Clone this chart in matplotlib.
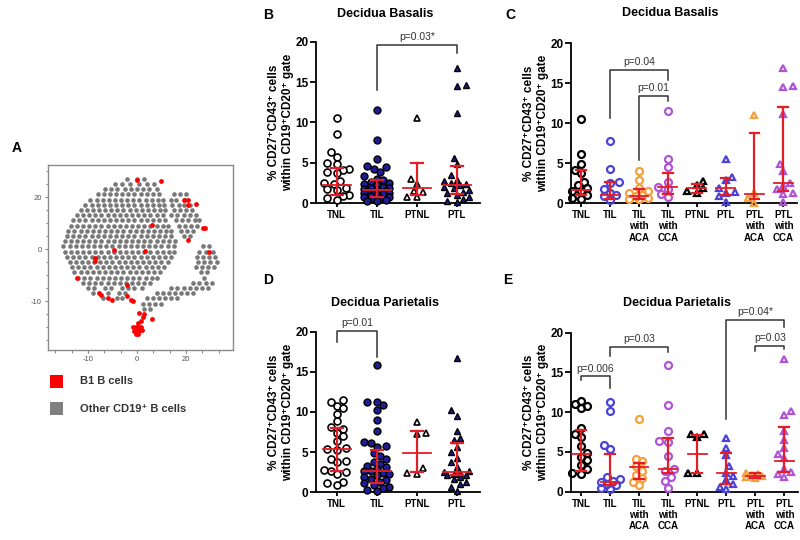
import numpy as np
import matplotlib
matplotlib.use("Agg")
import matplotlib.pyplot as plt
from matplotlib.patches import Rectangle

plt.rcParams['font.family'] = ['Liberation Sans', 'DejaVu Sans']

# ---------------- data ----------------
# panel A: t-SNE map, gray cells read row by row (y, list of x)
a_gray_rows = [
    (27, [-4, 0, 3]),
    (25, [-9, -6, -3, 1, 4, 7]),
    (23, [-13, -10.5, -8, -5, -2.5, 0, 2.5, 5, 8]),
    (21, [-16, -13.5, -11, -8.5, -6, -3.5, -1, 1.5, 4, 6.5, 9, 15, 17.5, 20]),
    (19, [-19, -16.5, -14, -11.5, -9, -6.5, -4, -1.5, 1, 3.5, 6, 8.5, 10.5, 14, 16, 19.5]),
    (17, [-21, -18.5, -16, -13.5, -11, -8.5, -6, -3.5, -1, 1.5, 4, 6.5, 9, 11, 14.5, 17, 19, 21.5]),
    (15, [-23, -20.5, -18, -15.5, -13, -10.5, -8, -5.5, -3, -0.5, 2, 4.5, 7, 9.5, 11.5, 15, 17.5, 20, 22.5]),
    (13, [-24.5, -22, -19.5, -17, -14.5, -12, -9.5, -7, -4.5, -2, 0.5, 3, 5.5, 8, 10.5, 14, 16.5, 19, 21.5, 24]),
    (11, [-26, -23.5, -21, -18.5, -16, -13.5, -11, -8.5, -6, -3.5, -1, 1.5, 4, 6.5, 9, 11.5, 16, 18.5, 21, 23.5, 25.5]),
    (9, [-27, -24.5, -22, -19.5, -17, -14.5, -12, -9.5, -7, -4.5, -2, 0.5, 3, 5.5, 8, 10.5, 12.5, 17, 19.5, 22, 24.5]),
    (7, [-28, -25.5, -23, -20.5, -18, -15.5, -13, -10.5, -8, -5.5, -3, -0.5, 2, 4.5, 7, 9.5, 12, 14, 18, 20.5, 23]),
    (5, [-28.5, -26, -23.5, -21, -18.5, -16, -13.5, -11, -8.5, -6, -3.5, -1, 1.5, 4, 6.5, 9, 11.5, 14, 19, 21.5]),
    (3, [-29.5, -27, -24.5, -22, -19.5, -17, -14.5, -12, -9.5, -7, -4.5, -2, 0.5, 3, 5.5, 8, 10.5, 13, 15.5]),
    (1, [-30, -27.5, -25, -22.5, -20, -17.5, -15, -12.5, -10, -7.5, -5, -2.5, 0, 2.5, 5, 7.5, 10, 12.5, 15, 27, 29.5]),
    (-1, [-29.5, -27, -24.5, -22, -19.5, -17, -14.5, -12, -9.5, -7, -4.5, -2, 0.5, 3, 5.5, 8, 10.5, 13, 15, 25.5, 28, 31]),
    (-3, [-28.5, -26, -23.5, -21, -18.5, -16, -13.5, -11, -8.5, -6, -3.5, -1, 1.5, 4, 6.5, 9, 11.5, 14, 24.5, 27, 29.5, 32]),
    (-5, [-27.5, -25, -22.5, -20, -17.5, -15, -12.5, -10, -7.5, -5, -2.5, 0, 2.5, 5, 7.5, 10, 12.5, 25, 27.5, 30, 32.5]),
    (-7, [-26.5, -24, -21.5, -19, -16.5, -14, -11.5, -9, -6.5, -4, -1.5, 1, 3.5, 6, 8.5, 11, 24, 26.5, 29, 31.5]),
    (-9, [-25.5, -23, -20.5, -18, -15.5, -13, -10.5, -8, -5.5, -3, -0.5, 2, 4.5, 7, 9.5, 26, 28.5]),
    (-11, [-24, -21.5, -19, -16.5, -14, -11.5, -9, -6.5, -4, -1.5, 1, 3.5, 6, 8, 27.5]),
    (-13, [-22, -19.5, -17, -14.5, -12, -9.5, -7, -4.5, -2, 0.5, 3, 5.5, 23, 25.5, 28, 30.5]),
    (-15, [-20, -17.5, -13, -10.5, -6, -3.5, -1, 2, 14, 16.5, 19, 21.5, 24, 26.5, 29]),
    (-17, [-18, -12, -7.5, -5, 8, 10.5, 13, 15.5, 18, 20.5, 23]),
    (-19, [-14, -8, -6, 4, 6.5, 9, 11.5, 14, 16.5]),
    (-21, [2.5, 5, 7.5, 10]),
    (-23, [3, 5.5]),
]
a_red_x = [-1.5, -0.5, 0.5, 1.5, -1, 0, 1, -0.5, 0.5, 2, 0.5, 1.5, 2.5, 1, 3, 6, 0, 10, 19, 21,
           21, 24, 27, 27.8, 20.7, 29.5, 3.3, -9.4, 6, -17, -17, -24.4, -15.5, -14.5, -12, -10,
           -4, -2.5, -1.5, -4]
a_red_y = [-30, -30, -30, -30, -31.5, -31.5, -31.5, -32.5, -32.5, -31, -28.5, -27.5, -26, -24.5,
           -25, -26.7, 26.5, 26, 19, 19, 17, 17.5, 8, 8, 3.5, -1, -0.6, -0.4, 9.2, -3.5, -4.5, -11,
           -17, -17.5, -19, -19.5, -18, -19.5, -20, -14]
a_ticks = [-20, 0, 20]
a_xticklabels = ["-10", "0", "20"]
a_yticklabels = ["-10", "0", "20"]

cats4 = ["TNL", "TIL", "PTNL", "PTL"]
cats8 = ["TNL", "TIL", "TIL\nwith\nACA", "TIL\nwith\nCCA", "PTNL", "PTL",
         "PTL\nwith\nACA", "PTL\nwith\nCCA"]

# panel B: decidua basalis
b_tnl = [10.5, 8.6, 6.3, 5.7, 4.9, 4.8, 4.2, 4.1, 3.9, 3.7, 2.7, 2.5, 2.4, 1.8, 1.7, 1.6, 1.0, 0.9, 0.6, 0.4]
b_til = [11.5, 7.8, 5.5, 4.6, 4.5, 4.2, 3.8, 3.3, 3.0, 2.8, 2.6, 2.5, 2.3, 2.2, 2.0, 1.9, 1.8, 1.7,
         1.6, 1.5, 1.5, 1.4, 1.3, 1.2, 1.2, 1.1, 1.0, 0.9, 0.8, 0.7, 0.6, 0.5, 0.4, 0.3, 0.2]
b_ptnl = [10.5, 3.0, 2.4, 1.5, 1.4, 0.8, 0.7]
b_ptl = [16.8, 14.6, 14.5, 11.2, 5.6, 4.8, 3.5, 2.9, 2.7, 2.5, 2.3, 2.2, 2.0, 1.8, 1.6, 1.4, 1.2,
         1.0, 0.8, 0.5, 0.2, 0.1]
b_med = [2.2, 1.6, 1.9, 2.2]
b_q1 = [1.0, 0.8, 1.0, 1.1]
b_q3 = [4.3, 2.8, 4.9, 4.6]

# panel C: decidua basalis by subgroup
c_tnl = [10.5, 6.2, 4.9, 4.2, 3.8, 2.7, 2.3, 1.9, 1.6, 1.5, 1.0, 0.7, 0.6]
c_til = [7.8, 4.3, 2.7, 2.6, 1.8, 1.3, 1.1, 0.9, 0.4]
c_til_aca = [4.1, 2.9, 1.9, 1.5, 1.3, 1.0, 0.9, 0.7, 0.6, 0.5]
c_til_cca = [11.6, 5.5, 4.6, 2.7, 2.0, 1.8, 1.2, 0.8]
c_ptnl = [2.8, 2.3, 1.9, 1.5, 1.3]
c_ptl = [5.6, 3.3, 2.9, 1.9, 1.4, 1.3, 0.9, 0.2]
c_ptl_aca = [11.1, 1.3, 0.7, 0.1]
c_ptl_cca = [16.9, 14.7, 14.5, 11.2, 4.9, 4.1, 2.6, 2.2, 1.8, 1.3, 1.2, 0.2]
c_med = [1.7, 1.1, 0.9, 2.0, 1.9, 1.9, 1.2, 2.6]
c_q1 = [1.0, 0.6, 0.5, 1.2, 1.3, 1.0, 0.5, 1.5]
c_q3 = [4.2, 2.7, 1.75, 3.8, 2.4, 3.2, 8.8, 12.0]

# panel D: decidua parietalis
d_tnl = [11.5, 11.3, 10.8, 10.5, 9.8, 8.9, 8.1, 7.9, 7.4, 7.0, 6.4, 5.5, 5.4, 5.3, 4.1, 3.9, 3.8,
         2.8, 2.6, 2.5, 2.3, 1.3, 1.1, 0.9]
d_til = [15.9, 11.3, 11.2, 10.9, 10.2, 9.0, 7.6, 6.3, 6.2, 5.8, 5.7, 4.9, 4.5, 4.2, 3.8, 3.5, 3.3,
         3.1, 2.9, 2.7, 2.6, 2.4, 2.3, 2.1, 1.9, 1.7, 1.5, 1.3, 1.1, 0.9, 0.7, 0.5, 0.3, 0.2]
d_ptnl = [8.7, 7.4, 7.3, 3.0, 2.4, 2.3]
d_ptl = [16.7, 10.2, 9.5, 7.6, 6.8, 6.5, 5.7, 5.0, 4.3, 3.8, 3.2, 2.6, 2.5, 2.4, 2.3, 2.2, 2.1,
         1.9, 1.6, 1.3, 1.0, 0.7, 0.2]
d_med = [5.35, 2.6, 4.85, 2.5]
d_q1 = [2.6, 1.2, 2.5, 2.1]
d_q3 = [7.95, 5.3, 7.6, 6.1]

# panel E: decidua parietalis by subgroup
e_tnl = [11.4, 11.0, 10.8, 10.5, 8.0, 7.3, 6.9, 5.8, 4.9, 4.4, 4.0, 3.4, 2.9, 2.4, 2.2]
e_til = [11.3, 10.1, 5.9, 5.4, 1.8, 1.6, 1.3, 1.2, 1.0, 0.8, 0.5, 0.3]
e_til_aca = [9.1, 4.1, 3.8, 3.2, 2.6, 2.1, 1.7, 1.2, 0.9]
e_til_cca = [15.9, 10.9, 7.6, 6.4, 6.2, 4.5, 2.8, 2.6, 1.9, 1.3, 0.5]
e_ptnl = [7.3, 7.2, 6.9, 2.4, 2.3]
e_ptl = [6.7, 5.5, 4.6, 3.2, 2.4, 2.0, 1.5, 1.0, 0.6, 0.3]
e_ptl_aca = [2.4, 2.2, 2.1, 2.0, 1.8, 1.7]
e_ptl_cca = [16.7, 10.2, 9.6, 7.6, 6.5, 5.5, 4.8, 4.2, 2.8, 2.5, 2.2, 1.8]
e_med = [4.7, 1.2, 3.1, 2.8, 4.7, 2.4, 2.0, 3.8]
e_q1 = [2.6, 0.9, 1.6, 2.4, 2.3, 1.0, 1.7, 2.5]
e_q3 = [7.75, 4.7, 3.65, 6.7, 7.1, 4.9, 2.4, 8.1]

# brackets: (x1, x2, y_top, y1_end, y2_end, label)
b_brackets = [(1, 3, 19.6, 14.0, 18.6, "p=0.03*")]
c_brackets = [(1, 3, 16.7, 10.7, 15.4, "p=0.04"), (2, 3, 13.4, 5.4, 12.8, "p=0.01")]
d_brackets = [(0, 1, 20.1, 18.75, 16.9, "p=0.01")]
e_brackets = [(0, 1, 14.5, 14.1, 13.0, "p=0.006"), (1, 3, 18.2, 17.1, 17.6, "p=0.03"),
              (5, 7, 21.6, 9.2, 20.7, "p=0.04*"), (6, 7, 18.3, 17.7, 17.9, "p=0.03")]

# ---------------- style ----------------
NAVY = "#1f1d96"
BLUE = "#4b43d8"
ORANGE = "#f5a03c"
PURPLE = "#b054d6"
RED = "#e41e26"
W, H = 800, 540

fig = plt.figure(figsize=(8, 5.4), dpi=100)


def add_ax(l, t, r, b):
    return fig.add_axes([l / W, 1 - b / H, (r - l) / W, (b - t) / H])


def ftext(x, y, s, **kw):
    fig.text(x / W, 1 - y / H, s, **kw)


def swarm(vals, unit_px, cat_px, d, maxw):
    # compact beeswarm: positions inside +-maxw px, overlap allowed when crowded
    vals = np.asarray(vals, float)
    offs = np.zeros(len(vals))
    placed = []
    step = d * 0.45
    nst = int(maxw // step)
    for n, i in enumerate(np.argsort(vals)):
        y = vals[i] * unit_px
        sgn = 1 if n % 2 == 0 else -1
        cands = [0.0]
        for k in range(1, nst + 1):
            cands += [sgn * k * step, -sgn * k * step]
        best, best_d = 0.0, -1
        for x in cands:
            md = min([np.hypot(x - px, y - py) for px, py in placed] or [99])
            if md >= 0.95 * d:
                best = x
                break
            if md > best_d:
                best, best_d = x, md
        placed.append((best, y))
        offs[i] = best / cat_px
    return offs


def dot_panel(rect, xlim, cats, groups, styles, med, q1, q3, brackets, mhw, chw, d, maxw):
    ax = add_ax(*rect)
    w_px = rect[2] - rect[0]
    h_px = rect[3] - rect[1]
    cat_px = w_px / (xlim[1] - xlim[0])
    unit_px = h_px / 20
    for i, (vals, st) in enumerate(zip(groups, styles)):
        off = swarm(vals, unit_px, cat_px, d, maxw)
        ax.plot(i + off, vals, ls="none", clip_on=False, zorder=3, **st)
    for i in range(len(groups)):
        ax.plot([i - mhw, i + mhw], [med[i], med[i]], color=RED, lw=1.3, zorder=4)
        ax.plot([i, i], [q1[i], q3[i]], color=RED, lw=1.6, zorder=4)
        for q in (q1[i], q3[i]):
            ax.plot([i - chw, i + chw], [q, q], color=RED, lw=1.6, zorder=4)
    for x1, x2, yt, y1, y2, lab in brackets:
        ax.plot([x1, x1, x2, x2], [y1, yt, yt, y2], color="#333333", lw=1.1,
                clip_on=False, zorder=2)
        ax.text((x1 + x2) / 2, yt + 0.35, lab, ha="center", va="bottom",
                fontsize=7.5, color="#333333")
    ax.set_xlim(*xlim)
    ax.set_ylim(0, 20)
    ax.set_yticks([0, 5, 10, 15, 20])
    ax.set_xticks(range(len(cats)))
    ax.set_xticklabels(cats, fontsize=7, fontweight="bold", linespacing=1.15)
    for lab in ax.get_yticklabels():
        lab.set_fontweight("bold")
        lab.set_fontsize(8.5)
    ax.spines["top"].set_visible(False)
    ax.spines["right"].set_visible(False)
    ax.spines["left"].set_linewidth(1.3)
    ax.spines["bottom"].set_linewidth(1.3)
    ax.tick_params(axis="y", length=4, width=1.3, pad=1.5)
    ax.tick_params(axis="x", length=3, width=1.3, pad=2)
    ax.patch.set_alpha(0)
    return ax


def st(marker, mfc, mec, mew, ms):
    return dict(marker=marker, mfc=mfc, mec=mec, mew=mew, ms=ms)


# ---------------- panel A ----------------
gx = [x for y, xs in a_gray_rows for x in xs]
gy = [y for y, xs in a_gray_rows for x in xs]
axa = add_ax(48, 165, 233, 350)
axa.scatter(gx, gy, s=11, color="#787878", lw=0, zorder=2)
axa.scatter(a_red_x, a_red_y, s=12, color="#ff0000", lw=0, zorder=3)
axa.set_xlim(-36.3, 39.2)
axa.set_ylim(-38.8, 32.3)
axa.set_xticks(a_ticks)
axa.set_xticklabels(a_xticklabels)
axa.set_yticks(a_ticks)
axa.set_yticklabels(a_yticklabels)
axa.set_xticks(np.arange(-33.33, 39, 20 / 3), minor=True)
axa.set_yticks(np.arange(-35, 32, 5), minor=True)
for s in axa.spines.values():
    s.set_color("#8a8a8a")
    s.set_linewidth(1.0)
axa.tick_params(which="both", colors="#8a8a8a", labelcolor="#555555", labelsize=5.5,
                length=2.5, width=0.8, pad=2)
axa.tick_params(which="minor", length=1.8)

ftext(12, 148, "A", fontsize=10, fontweight="bold", ha="left", va="center")
fig.add_artist(Rectangle((50 / W, 1 - 388 / H), 13 / W, 13 / H, transform=fig.transFigure,
                         color="#ff0000", lw=0))
fig.add_artist(Rectangle((50 / W, 1 - 415 / H), 13 / W, 13 / H, transform=fig.transFigure,
                         color="#808080", lw=0))
ftext(80, 381, "B1 B cells", fontsize=8, fontweight="bold", va="center", color="#333333")
ftext(80, 409, "Other CD19⁺ B cells", fontsize=8, fontweight="bold", va="center", color="#333333")

# ---------------- panels B-E ----------------
open_c = st("o", "white", "black", 1.2, 5)
navy_c = st("o", NAVY, "black", 1.0, 5)
open_t = st("^", "white", "black", 1.2, 5)
navy_t = st("^", NAVY, "black", 1.0, 5)

styles4 = [open_c, navy_c, open_t, navy_t]
styles8 = [st("o", "none", "black", 1.6, 5), st("o", "none", BLUE, 1.6, 5),
           st("o", "none", ORANGE, 1.6, 5), st("o", "none", PURPLE, 1.6, 5),
           st("^", "none", "black", 1.6, 5), st("^", "none", BLUE, 1.6, 5),
           st("^", "none", ORANGE, 1.6, 5), st("^", "none", PURPLE, 1.6, 5)]

xl4 = (-0.52, 3.58)
xl8 = (-0.346, 7.47)

dot_panel((316, 41.7, 480, 203), xl4, cats4, [b_tnl, b_til, b_ptnl, b_ptl], styles4,
          b_med, b_q1, b_q3, b_brackets, 0.35, 0.15, 7, 13)
dot_panel((571, 43.3, 797, 203.3), xl8, cats8,
          [c_tnl, c_til, c_til_aca, c_til_cca, c_ptnl, c_ptl, c_ptl_aca, c_ptl_cca], styles8,
          c_med, c_q1, c_q3, c_brackets, 0.32, 0.17, 7, 10)
dot_panel((316, 331.7, 480, 492.3), xl4, cats4, [d_tnl, d_til, d_ptnl, d_ptl], styles4,
          d_med, d_q1, d_q3, d_brackets, 0.35, 0.15, 7, 13)
dot_panel((571, 332.7, 798, 491.7), xl8, cats8,
          [e_tnl, e_til, e_til_aca, e_til_cca, e_ptnl, e_ptl, e_ptl_aca, e_ptl_cca], styles8,
          e_med, e_q1, e_q3, e_brackets, 0.32, 0.17, 7, 10)

ylab = "% CD27⁺CD43⁺ cells\nwithin CD19⁺CD20⁺ gate"
for x, y in [(281, 122), (536, 123), (281, 412), (536, 412)]:
    ftext(x, y, ylab, rotation=90, ha="center", va="center", fontsize=8.5,
          fontweight="bold", linespacing=1.25)

ftext(385, 14, "Decidua Basalis", ha="center", va="center", fontsize=9, fontweight="bold")
ftext(670, 13, "Decidua Basalis", ha="center", va="center", fontsize=9, fontweight="bold")
ftext(385, 303, "Decidua Parietalis", ha="center", va="center", fontsize=9, fontweight="bold")
ftext(677, 303, "Decidua Parietalis", ha="center", va="center", fontsize=9, fontweight="bold")

for x, y, s in [(268, 15, "B"), (510, 15, "C"), (268, 280, "D"), (508, 280, "E")]:
    ftext(x, y, s, ha="center", va="center", fontsize=10, fontweight="bold")

fig.savefig("out.png", dpi=100)
